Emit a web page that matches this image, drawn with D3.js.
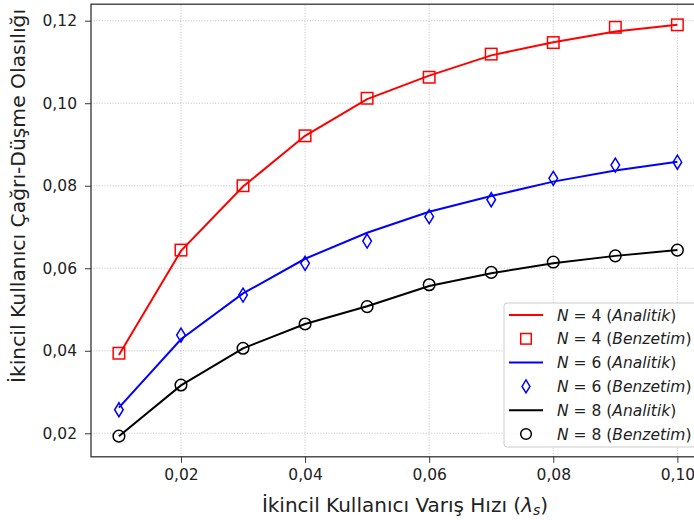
<!DOCTYPE html>
<html>
<head>
<meta charset="utf-8">
<script src="https://cdn.jsdelivr.net/npm/d3@7"></script>
<style>
  body { margin: 0; background: #fff; }
  svg { display: block; font-family: "DejaVu Sans", sans-serif; }
</style>
</head>
<body>
<svg id="chart" width="694" height="520"></svg>
<script>
// arrival rate (x) values
var rates = [0.01, 0.02, 0.03, 0.04, 0.05, 0.06, 0.07, 0.08, 0.09, 0.10];

// N = 4
var n4Analytic = [0.0390, 0.0642, 0.0798, 0.0921, 0.1010, 0.1067, 0.1116, 0.1148, 0.1174, 0.1190];
var n4Sim      = [0.0394, 0.0644, 0.0800, 0.0921, 0.1012, 0.1063, 0.1119, 0.1147, 0.1184, 0.1190];
// N = 6
var n6Analytic = [0.0262, 0.0428, 0.0539, 0.0623, 0.0686, 0.0737, 0.0775, 0.0810, 0.0837, 0.0858];
var n6Sim      = [0.0257, 0.0438, 0.0535, 0.0612, 0.0666, 0.0725, 0.0766, 0.0818, 0.0850, 0.0857];
// N = 8
var n8Analytic = [0.0193, 0.0316, 0.0406, 0.0465, 0.0508, 0.0557, 0.0588, 0.0612, 0.0630, 0.0644];
var n8Sim      = [0.0193, 0.0317, 0.0406, 0.0465, 0.0507, 0.0560, 0.0590, 0.0615, 0.0630, 0.0644];

var xTicks = [0.02, 0.04, 0.06, 0.08, 0.10];
var yTicks = [0.02, 0.04, 0.06, 0.08, 0.10, 0.12];

var series = [
	{ n: 4, color: "#ff0000", line: n4Analytic, sim: n4Sim, marker: "square" },
	{ n: 6, color: "#0000ff", line: n6Analytic, sim: n6Sim, marker: "diamond" },
	{ n: 8, color: "#000000", line: n8Analytic, sim: n8Sim, marker: "circle" }
];

var svg = d3.select("#chart");

var x = d3.scaleLinear().domain([0.0055, 0.1045]).range([91, 705.3]);
var y = d3.scaleLinear().domain([0.0143, 0.124]).range([456.8, 4.2]);

var fmt = function(v){ return d3.format(".2f")(v).replace(".", ","); };

// grid
var grid = svg.append("g");
grid.selectAll(".gx").data(xTicks).enter().append("line")
	.attr("x1", function(d){ return x(d); }).attr("x2", function(d){ return x(d); })
	.attr("y1", y.range()[0]).attr("y2", y.range()[1])
	.attr("stroke", "#b0b0b0").attr("stroke-width", 0.8).attr("stroke-dasharray", "1,1.7");
grid.selectAll(".gy").data(yTicks).enter().append("line")
	.attr("y1", function(d){ return y(d); }).attr("y2", function(d){ return y(d); })
	.attr("x1", x.range()[0]).attr("x2", x.range()[1])
	.attr("stroke", "#b0b0b0").attr("stroke-width", 0.8).attr("stroke-dasharray", "1,1.7");

// axes
var xAxis = svg.append("g")
	.attr("transform", "translate(0," + y.range()[0] + ")")
	.call(d3.axisBottom(x).tickValues(xTicks).tickFormat(fmt).tickSizeOuter(0).tickSize(6).tickPadding(6));
var yAxis = svg.append("g")
	.attr("transform", "translate(" + x.range()[0] + ",0)")
	.call(d3.axisLeft(y).tickValues(yTicks).tickFormat(fmt).tickSizeOuter(0).tickSize(6).tickPadding(8));

[xAxis, yAxis].forEach(function(a){
	a.select(".domain").remove();
	a.selectAll("text").attr("font-family", "DejaVu Sans").attr("font-size", 15.5).attr("fill", "#222");
	a.selectAll("line").attr("stroke", "#333");
});

// frame
svg.append("rect")
	.attr("x", x.range()[0]).attr("y", y.range()[1])
	.attr("width", x.range()[1] - x.range()[0]).attr("height", y.range()[0] - y.range()[1])
	.attr("fill", "none").attr("stroke", "#333").attr("stroke-width", 1.3);

// lines
var lineGen = d3.line()
	.x(function(d){ return x(d[0]); })
	.y(function(d){ return y(d[1]); });

series.forEach(function(s){
	svg.append("path")
		.datum(rates.map(function(r, i){ return [r, s.line[i]]; }))
		.attr("d", lineGen)
		.attr("fill", "none").attr("stroke", s.color).attr("stroke-width", 2);
});

function drawMarker(g, kind, cx, cy, color, k){
	k = k || 1;
	if (kind === "square"){
		var h = 5.75 * k;
		g.append("rect").attr("x", cx - h).attr("y", cy - h).attr("width", 2 * h).attr("height", 2 * h)
			.attr("fill", "none").attr("stroke", color).attr("stroke-width", 1.5);
	} else if (kind === "diamond"){
		var dh = 7 * k, dw = 4.3 * k;
		g.append("path").attr("d", "M" + cx + "," + (cy - dh) + "L" + (cx + dw) + "," + cy +
			"L" + cx + "," + (cy + dh) + "L" + (cx - dw) + "," + cy + "Z")
			.attr("fill", "none").attr("stroke", color).attr("stroke-width", 1.5);
	} else {
		g.append("circle").attr("cx", cx).attr("cy", cy).attr("r", 5.8 * k)
			.attr("fill", "none").attr("stroke", color).attr("stroke-width", 1.5);
	}
}

series.forEach(function(s){
	var g = svg.append("g");
	rates.forEach(function(r, i){
		drawMarker(g, s.marker, x(r), y(s.sim[i]), s.color);
	});
});

// axis labels
svg.append("text")
	.attr("x", 405).attr("y", 512)
	.attr("text-anchor", "middle").attr("font-size", 20).attr("fill", "#222")
	.call(function(t){
		t.append("tspan").text("İkincil Kullanıcı Varış Hızı (");
		t.append("tspan").attr("font-style", "italic").text("λ");
		t.append("tspan").attr("font-style", "italic").attr("font-size", 14).attr("dy", 3).text("s");
		t.append("tspan").attr("dy", -3).text(")");
	});

svg.append("text")
	.attr("transform", "translate(25,196) rotate(-90)")
	.attr("text-anchor", "middle").attr("font-size", 20.3).attr("fill", "#222")
	.text("İkincil Kullanıcı Çağrı-Düşme Olasılığı");

// legend
var legend = svg.append("g");
legend.append("rect")
	.attr("x", 504).attr("y", 303).attr("width", 196).attr("height", 144).attr("rx", 3)
	.attr("fill", "#fff").attr("fill-opacity", 0.85).attr("stroke", "#ccc").attr("stroke-width", 1);

var entries = [];
series.forEach(function(s){
	entries.push({ s: s, type: "line", label: "Analitik" });
	entries.push({ s: s, type: "marker", label: "Benzetim" });
});

entries.forEach(function(e, i){
	var ey = 315 + i * 23.8;
	if (e.type === "line"){
		legend.append("line").attr("x1", 509).attr("x2", 543).attr("y1", ey).attr("y2", ey)
			.attr("stroke", e.s.color).attr("stroke-width", 2);
	} else {
		drawMarker(legend, e.s.marker, 526, ey, e.s.color, 0.92);
	}
	var t = legend.append("text").attr("x", 557).attr("y", ey + 5.5)
		.attr("font-size", 15.5).attr("fill", "#222");
	t.append("tspan").attr("font-style", "italic").text("N");
	t.append("tspan").text(" = " + e.s.n + " (");
	t.append("tspan").attr("font-style", "italic").text(e.label);
	t.append("tspan").text(")");
});
</script>
</body>
</html>
